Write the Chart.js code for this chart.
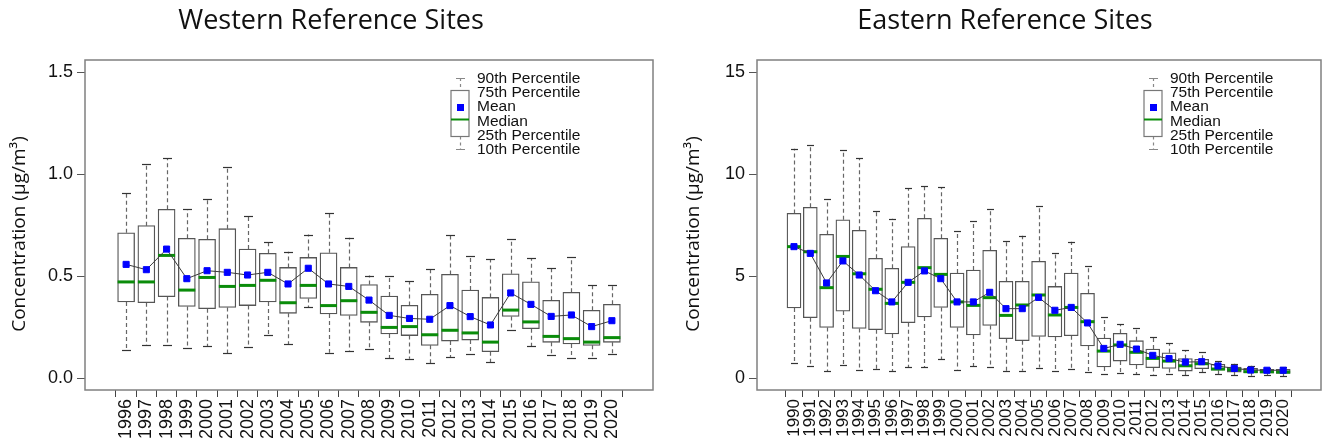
<!DOCTYPE html>
<html>
<head>
<meta charset="utf-8">
<script src="https://cdn.jsdelivr.net/npm/chart.js@4.4.1/dist/chart.umd.min.js"></script>
<style>
  body { margin: 0; background: #fff; width: 1331px; height: 446px; overflow: hidden; position: relative; }
  .panel { position: absolute; top: 0; height: 446px; }
</style>
</head>
<body>
<div class="panel" style="left:0;width:665px"><canvas id="west" width="665" height="446"></canvas></div>
<div class="panel" style="left:665px;width:666px"><canvas id="east" width="666" height="446"></canvas></div>
<script>
// Western sites
const westYears = [1996, 1997, 1998, 1999, 2000, 2001, 2002, 2003, 2004, 2005, 2006, 2007, 2008,
  2009, 2010, 2011, 2012, 2013, 2014, 2015, 2016, 2017, 2018, 2019, 2020];
const westP90 = [0.905, 1.048, 1.078, 0.827, 0.877, 1.034, 0.792, 0.668, 0.619, 0.703, 0.807, 0.688, 0.502,
  0.500, 0.474, 0.533, 0.703, 0.600, 0.583, 0.681, 0.587, 0.539, 0.591, 0.458, 0.454];
const westQ75 = [0.712, 0.747, 0.827, 0.685, 0.680, 0.732, 0.632, 0.611, 0.542, 0.591, 0.614, 0.542, 0.458,
  0.402, 0.356, 0.410, 0.508, 0.431, 0.395, 0.511, 0.472, 0.381, 0.420, 0.332, 0.361];
const westMean = [0.557, 0.531, 0.632, 0.487, 0.526, 0.518, 0.505, 0.518, 0.461, 0.538, 0.461, 0.449, 0.382,
  0.307, 0.292, 0.288, 0.355, 0.301, 0.260, 0.417, 0.361, 0.302, 0.309, 0.252, 0.281];
const westMedian = [0.471, 0.471, 0.601, 0.431, 0.493, 0.449, 0.454, 0.479, 0.369, 0.454, 0.355, 0.379, 0.322,
  0.248, 0.252, 0.212, 0.234, 0.221, 0.176, 0.333, 0.275, 0.204, 0.193, 0.176, 0.198];
const westQ25 = [0.373, 0.369, 0.399, 0.351, 0.340, 0.346, 0.355, 0.373, 0.317, 0.390, 0.314, 0.307, 0.273,
  0.216, 0.208, 0.160, 0.181, 0.186, 0.129, 0.302, 0.242, 0.175, 0.167, 0.160, 0.175];
const westP10 = [0.139, 0.160, 0.160, 0.145, 0.157, 0.121, 0.150, 0.212, 0.165, 0.346, 0.124, 0.131, 0.142,
  0.098, 0.095, 0.072, 0.101, 0.118, 0.078, 0.234, 0.157, 0.114, 0.098, 0.098, 0.116];
const westTicks = [0, 0.5, 1.0, 1.5];

// Eastern sites
const eastYears = [1990, 1991, 1992, 1993, 1994, 1995, 1996, 1997, 1998, 1999, 2000, 2001, 2002, 2003, 2004,
  2005, 2006, 2007, 2008, 2009, 2010, 2011, 2012, 2013, 2014, 2015, 2016, 2017, 2018, 2019, 2020];
const eastP90 = [11.24, 11.44, 8.77, 11.16, 10.78, 8.20, 7.81, 9.30, 9.43, 9.36, 7.21, 7.68, 8.30, 6.73, 6.98,
  8.42, 6.11, 6.68, 5.51, 2.99, 2.63, 2.47, 1.99, 1.72, 1.36, 1.27, 0.83, 0.70, 0.60, 0.49, 0.54];
const eastQ75 = [8.07, 8.37, 7.04, 7.76, 7.24, 5.87, 5.38, 6.44, 7.83, 6.85, 5.15, 5.29, 6.26, 4.74, 4.74,
  5.72, 4.49, 5.15, 4.15, 1.96, 2.19, 1.83, 1.42, 1.24, 0.95, 0.92, 0.67, 0.54, 0.47, 0.42, 0.42];
const eastMean = [6.44, 6.11, 4.66, 5.74, 5.05, 4.28, 3.73, 4.69, 5.25, 4.87, 3.73, 3.73, 4.20, 3.40, 3.40,
  3.95, 3.32, 3.46, 2.70, 1.45, 1.65, 1.42, 1.11, 0.95, 0.78, 0.80, 0.59, 0.47, 0.39, 0.38, 0.38];
const eastMedian = [6.44, 6.19, 4.43, 5.96, 5.11, 4.35, 3.66, 4.69, 5.41, 5.08, 3.73, 3.56, 3.94, 3.07, 3.58,
  4.07, 3.09, 3.46, 2.76, 1.32, 1.62, 1.26, 0.96, 0.83, 0.60, 0.70, 0.44, 0.41, 0.31, 0.31, 0.29];
const eastQ25 = [3.43, 2.96, 2.48, 3.28, 2.43, 2.37, 2.16, 2.71, 2.99, 3.46, 2.48, 2.11, 2.58, 1.93, 1.83,
  2.04, 2.01, 2.07, 1.57, 0.54, 0.83, 0.64, 0.51, 0.47, 0.34, 0.46, 0.38, 0.29, 0.26, 0.24, 0.23];
const eastP10 = [0.72, 0.57, 0.33, 0.65, 0.41, 0.44, 0.33, 0.54, 0.54, 0.93, 0.41, 0.57, 0.54, 0.33, 0.36,
  0.51, 0.33, 0.42, 0.28, 0.18, 0.23, 0.18, 0.15, 0.18, 0.15, 0.28, 0.18, 0.15, 0.11, 0.15, 0.08];
const eastTicks = [0, 5, 10, 15];

const legendLabels = ["90th Percentile", "75th Percentile", "Mean", "Median", "25th Percentile", "10th Percentile"];
const yTitle = "Concentration (\u00b5g/m\u00b3)";

const GREEN = "#0a8c0a";
const BLUE = "#0000ff";

// whiskers, frame, titles and legend
function decor(c) {
  return {
    id: "decor",
    beforeDatasetsDraw(chart) {
      const ctx = chart.ctx, xs = chart.scales.x, ys = chart.scales.y;
      ctx.save();
      ctx.lineWidth = 1.2;
      ctx.strokeStyle = "#666";
      ctx.setLineDash([4, 3]);
      c.years.forEach((yr, i) => {
        const px = Math.round(xs.getPixelForValue(yr)) + 0.5;
        ctx.beginPath();
        ctx.moveTo(px, ys.getPixelForValue(c.q75[i]));
        ctx.lineTo(px, ys.getPixelForValue(c.p90[i]));
        ctx.moveTo(px, ys.getPixelForValue(c.q25[i]));
        ctx.lineTo(px, ys.getPixelForValue(c.p10[i]));
        ctx.stroke();
      });
      ctx.setLineDash([]);
      ctx.strokeStyle = "#333";
      c.years.forEach((yr, i) => {
        const px = Math.round(xs.getPixelForValue(yr)) + 0.5;
        [c.p90[i], c.p10[i]].forEach(v => {
          const py = Math.round(ys.getPixelForValue(v)) + 0.5;
          ctx.beginPath();
          ctx.moveTo(px - c.capW / 2, py);
          ctx.lineTo(px + c.capW / 2, py);
          ctx.stroke();
        });
      });
      ctx.restore();
    },
    afterDraw(chart) {
      const ctx = chart.ctx, a = chart.chartArea;
      ctx.save();
      // frame
      ctx.strokeStyle = "#808080";
      ctx.lineWidth = 1.5;
      ctx.strokeRect(a.left, a.top, a.right - a.left, a.bottom - a.top);

      // title
      ctx.fillStyle = "#111";
      ctx.font = "27px 'Open Sans'";
      ctx.textAlign = "center";
      ctx.textBaseline = "alphabetic";
      ctx.fillText(c.title, c.titleX, 29);

      // y axis title
      ctx.save();
      ctx.translate(c.yTitleX, (a.top + a.bottom) / 2 + 9);
      ctx.rotate(-Math.PI / 2);
      ctx.font = "19px 'Open Sans'";
      ctx.textBaseline = "middle";
      ctx.fillText(yTitle, 0, 0);
      ctx.restore();

      // legend glyph
      const gx = c.legX, gy = c.legY, bw = 18;
      ctx.lineWidth = 1.2;
      ctx.strokeStyle = "#888";
      ctx.setLineDash([3, 3]);
      ctx.beginPath();
      ctx.moveTo(gx + 0.5, gy); ctx.lineTo(gx + 0.5, gy + 12.5);
      ctx.moveTo(gx + 0.5, gy + 58.5); ctx.lineTo(gx + 0.5, gy + 71.5);
      ctx.stroke();
      ctx.setLineDash([]);
      ctx.beginPath();
      ctx.moveTo(gx - 4, gy + 0.5); ctx.lineTo(gx + 5, gy + 0.5);
      ctx.moveTo(gx - 4, gy + 71.5); ctx.lineTo(gx + 5, gy + 71.5);
      ctx.stroke();
      ctx.strokeStyle = "#777";
      ctx.strokeRect(gx - bw / 2, gy + 12.5, bw, 46);
      ctx.fillStyle = BLUE;
      ctx.fillRect(gx - 3, gy + 26, 7, 7);
      ctx.strokeStyle = GREEN;
      ctx.lineWidth = 2;
      ctx.beginPath();
      ctx.moveTo(gx - bw / 2, gy + 41.5); ctx.lineTo(gx + bw / 2, gy + 41.5);
      ctx.stroke();

      ctx.fillStyle = "#111";
      ctx.font = "15.5px 'Liberation Sans'";
      ctx.textAlign = "left";
      ctx.textBaseline = "middle";
      legendLabels.forEach((t, k) => ctx.fillText(t, gx + 17, gy + 1 + k * 14.1));
      ctx.restore();
    }
  };
}

function makeChart(id, c) {
  const pts = arr => c.years.map((x, i) => ({ x: x, y: arr[i] }));
  return new Chart(document.getElementById(id), {
    type: "bar",
    data: {
      datasets: [
        {
          type: "line",
          label: "Mean",
          data: pts(c.mean),
          borderColor: "#3a3a3a",
          borderWidth: 1,
          pointStyle: "rect",
          pointRadius: 4.3,
          pointBackgroundColor: BLUE,
          pointBorderColor: BLUE,
          pointBorderWidth: 1,
          order: 1
        },
        {
          type: "line",
          label: "Median",
          data: pts(c.median),
          showLine: false,
          pointStyle: "line",
          pointRadius: c.boxW / 2,
          pointBorderColor: GREEN,
          pointBorderWidth: 3,
          order: 2
        },
        {
          type: "bar",
          label: "Box",
          data: c.years.map((x, i) => ({ x: x, y: [c.q25[i], c.q75[i]] })),
          backgroundColor: "#fff",
          borderColor: "#555",
          borderWidth: 1.3,
          borderSkipped: false,
          barThickness: c.boxW,
          order: 3
        }
      ]
    },
    options: {
      responsive: false,
      animation: false,
      layout: { padding: { top: 60, left: 0, right: c.padRight, bottom: 0 } },
      plugins: { legend: { display: false }, tooltip: { enabled: false } },
      scales: {
        x: {
          type: "linear",
          min: c.xMin,
          max: c.xMax,
          afterBuildTicks: s => { s.ticks = c.years.map(v => ({ value: v })); },
          afterFit: s => { s.height = 56; },
          border: { display: false },
          grid: { drawOnChartArea: false, tickLength: 7, color: "#444" },
          ticks: {
            autoSkip: false,
            minRotation: 90,
            maxRotation: 90,
            padding: 2,
            color: "#111",
            font: { family: "'Liberation Sans'", size: c.xFont },
            callback: v => String(v)
          }
        },
        y: {
          min: c.yMin,
          max: c.yMax,
          afterBuildTicks: s => { s.ticks = c.yTicks.map(v => ({ value: v })); },
          afterFit: s => { s.width = c.yW; },
          border: { display: false },
          grid: { drawOnChartArea: false, tickLength: 8, color: "#555" },
          ticks: {
            padding: 4,
            color: "#111",
            font: { family: "'Liberation Sans'", size: 18 },
            callback: c.fmt
          }
        }
      }
    },
    plugins: [decor(c)]
  });
}

makeChart("west", {
  title: "Western Reference Sites", titleX: 331, yTitleX: 20,
  years: westYears, p90: westP90, q75: westQ75, mean: westMean, median: westMedian, q25: westQ25, p10: westP10,
  yTicks: westTicks, yMin: -0.0588, yMax: 1.559, xMin: 1994.53, xMax: 2021.47,
  yW: 85, padRight: 12, boxW: 17, capW: 9, xFont: 18,
  legX: 460, legY: 78,
  fmt: v => Number(v).toFixed(1)
});

makeChart("east", {
  title: "Eastern Reference Sites", titleX: 340, yTitleX: 29,
  years: eastYears, p90: eastP90, q75: eastQ75, mean: eastMean, median: eastMedian, q25: eastQ25, p10: eastP10,
  yTicks: eastTicks, yMin: -0.588, yMax: 15.59, xMin: 1988.29, xMax: 2021.76,
  yW: 92, padRight: 5, boxW: 14, capW: 7, xFont: 17,
  legX: 488, legY: 78,
  fmt: v => String(v)
});
</script>
</body>
</html>
